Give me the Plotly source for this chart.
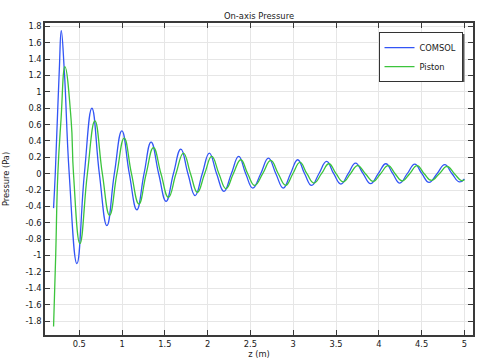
import plotly.graph_objects as go

# ---- data (extrema, zero crossings, flanks) ----
comsol_z = [0.2, 0.22, 0.267, 0.29, 0.325, 0.383, 0.473, 0.56, 0.648, 0.735, 0.823, 0.91, 0.998,
            1.085, 1.173, 1.257, 1.34, 1.428, 1.515, 1.60, 1.687, 1.77, 1.854,
            1.937, 2.02, 2.105, 2.19, 2.277, 2.363, 2.445, 2.527, 2.62, 2.71,
            2.797, 2.884, 2.968, 3.052, 3.133, 3.215, 3.30, 3.39, 3.473, 3.557,
            3.642, 3.728, 3.816, 3.904, 3.993, 4.082, 4.163, 4.245, 4.332, 4.42,
            4.503, 4.587, 4.68, 4.77, 4.855, 4.94, 5.0]
comsol_p = [-0.42, 0.0, 1.27, 1.747, 1.27, 0.0, -1.098, 0.0, 0.80, 0.0, -0.634, 0.0, 0.524,
            0.0, -0.44, 0.0, 0.386, 0.0, -0.338, 0.0, 0.30, 0.0, -0.268,
            0.0, 0.252, 0.0, -0.216, 0.0, 0.211, 0.0, -0.175, 0.0, 0.19,
            0.0, -0.175, 0.0, 0.171, 0.0, -0.143, 0.0, 0.15, 0.0, -0.126,
            0.0, 0.13, 0.0, -0.122, 0.0, 0.122, 0.0, -0.114, 0.0, 0.118,
            0.0, -0.106, 0.0, 0.11, 0.0, -0.10, -0.065]

piston_z = [0.2, 0.225, 0.25, 0.287, 0.333, 0.405, 0.433, 0.508, 0.595, 0.683, 0.77, 0.854, 0.94,
            1.025, 1.11, 1.197, 1.282, 1.367, 1.455, 1.542, 1.63, 1.717, 1.80,
            1.88, 1.965, 2.048, 2.132, 2.215, 2.30, 2.387, 2.468, 2.55, 2.643,
            2.737, 2.825, 2.912, 2.995, 3.079, 3.16, 3.242, 3.33, 3.417, 3.50,
            3.584, 3.668, 3.752, 3.843, 3.934, 4.02, 4.109, 4.19, 4.272, 4.36,
            4.447, 4.53, 4.615, 4.706, 4.797, 4.883, 4.965, 5.0]
piston_p = [-1.866, -1.0, 0.0, 0.66, 1.309, 0.66, 0.0, -0.854, 0.0, 0.646, 0.0, -0.508, 0.0,
            0.435, 0.0, -0.37, 0.0, 0.32, 0.0, -0.289, 0.0, 0.252, 0.0,
            -0.228, 0.0, 0.211, 0.0, -0.183, 0.0, 0.171, 0.0, -0.143, 0.0,
            0.162, 0.0, -0.143, 0.0, 0.138, 0.0, -0.114, 0.0, 0.122, 0.0,
            -0.10, 0.0, 0.10, 0.0, -0.094, 0.0, 0.098, 0.0, -0.089, 0.0,
            0.098, 0.0, -0.082, 0.0, 0.09, 0.0, -0.085, -0.075]

x_tickvals = [0.5, 1, 1.5, 2, 2.5, 3, 3.5, 4, 4.5, 5]
x_ticktext = ["0.5", "1", "1.5", "2", "2.5", "3", "3.5", "4", "4.5", "5"]
y_tickvals = [1.8, 1.6, 1.4, 1.2, 1.0, 0.8, 0.6, 0.4, 0.2, 0.0,
              -0.2, -0.4, -0.6, -0.8, -1.0, -1.2, -1.4, -1.6, -1.8]
y_ticktext = ["1.8", "1.6", "1.4", "1.2", "1", "0.8", "0.6", "0.4", "0.2", "0",
              "-0.2", "-0.4", "-0.6", "-0.8", "-1", "-1.2", "-1.4", "-1.6", "-1.8"]

FONT = "DejaVu Sans"
AXC = "#3a3a3a"

fig = go.Figure()
fig.add_trace(go.Scatter(x=comsol_z, y=comsol_p, mode="lines", name="COMSOL",
                         line=dict(color="#3355f5", width=1.3, shape="spline", smoothing=1.3)))
fig.add_trace(go.Scatter(x=piston_z, y=piston_p, mode="lines", name="Piston",
                         line=dict(color="#3cc43c", width=1.3, shape="spline", smoothing=1.3)))

fig.update_layout(
    width=484, height=360,
    margin=dict(l=45, r=10.5, t=23.3, b=24.7),
    paper_bgcolor="white", plot_bgcolor="white",
    font=dict(family=FONT, size=8.3, color="#1a1a1a"),
    title=dict(text="On-axis Pressure", x=0.5, xref="paper", xanchor="center",
               y=1 - 16.5 / 360, yref="container", yanchor="middle",
               font=dict(family=FONT, size=8.4, color="#1a1a1a")),
    showlegend=True,
    legend=dict(x=0.9755, xanchor="right", y=0.971, yanchor="top",
                bgcolor="white", bordercolor="#333333", borderwidth=1,
                font=dict(family=FONT, size=8.3, color="#1a1a1a"),
                tracegroupgap=0),
    shapes=[dict(type="rect", xref="paper", yref="paper",
                 x0=0.7888, x1=0.980, y0=0.8109, y1=0.9647,
                 fillcolor="#555555", line=dict(width=0), layer="above")],
)

fig.update_xaxes(range=[0.1, 5.1], tickvals=x_tickvals, ticktext=x_ticktext,
                 ticks="inside", ticklen=5, tickcolor=AXC, tickwidth=1,
                 showline=True, linecolor=AXC, linewidth=1.5, mirror="ticks",
                 showgrid=True, gridcolor="#e6e6e6", gridwidth=1, zeroline=False,
                 automargin=False,
                 title=dict(text="z (m)", standoff=2, font=dict(family=FONT, size=8.3)))
fig.update_yaxes(range=[-1.971, 1.842], tickvals=y_tickvals, ticktext=y_ticktext,
                 ticks="inside", ticklen=5, tickcolor=AXC, tickwidth=1,
                 showline=True, linecolor=AXC, linewidth=1.5, mirror="ticks",
                 showgrid=True, gridcolor="#e6e6e6", gridwidth=1, zeroline=False,
                 automargin=False,
                 title=dict(text="Pressure (Pa)", standoff=14, font=dict(family=FONT, size=8.3)))

fig.write_html("out.html", config={"displayModeBar": False},
               post_script="document.body.style.margin='0';document.body.style.padding='0';")
